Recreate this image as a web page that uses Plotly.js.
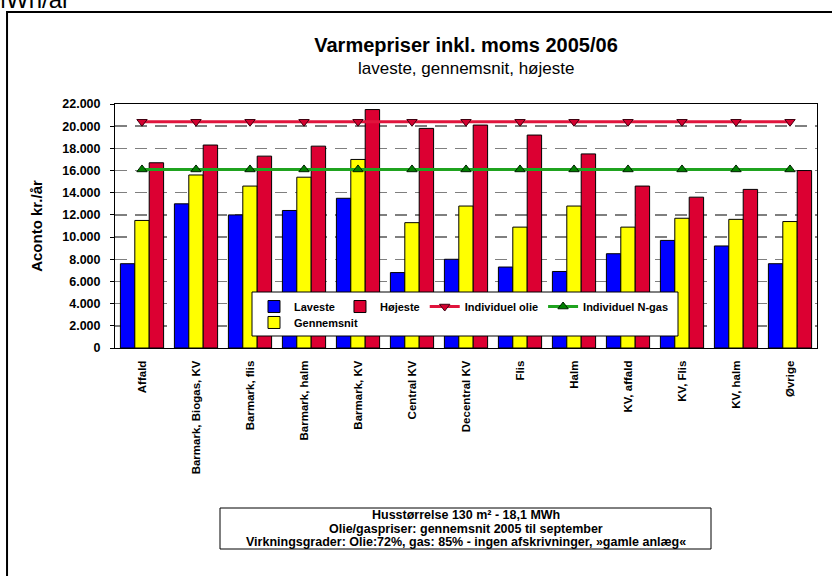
<!DOCTYPE html>
<html>
<head>
<meta charset="utf-8">
<script src="https://cdn.plot.ly/plotly-3.0.1.min.js"></script>
<style>html,body{margin:0;padding:0;background:#fff;}</style>
</head>
<body>
<div id="chart" style="width:832px;height:576px;"></div>
<script>
var categories = ["Affald", "Barmark, Biogas, KV", "Barmark, flis", "Barmark, halm", "Barmark, KV",
  "Central KV", "Decentral KV", "Flis", "Halm", "KV, affald", "KV, Flis", "KV, halm", "Øvrige"];
var laveste     = [7600, 13000, 12000, 12400, 13500, 6800, 8000, 7300, 6900, 8500, 9700, 9200, 7600];
var gennemsnit  = [11500, 15600, 14600, 15400, 17000, 11300, 12800, 10900, 12800, 10900, 11700, 11600, 11400];
var hojeste     = [16700, 18300, 17300, 18200, 21500, 19800, 20100, 19200, 17500, 14600, 13600, 14300, 16000];
var individuelOlie = [20400, 20400, 20400, 20400, 20400, 20400, 20400, 20400, 20400, 20400, 20400, 20400, 20400];
var individuelGas  = [16100, 16100, 16100, 16100, 16100, 16100, 16100, 16100, 16100, 16100, 16100, 16100, 16100];
var yTickVals = [0, 2000, 4000, 6000, 8000, 10000, 12000, 14000, 16000, 18000, 20000, 22000];
var noteLines = [
  "Husstørrelse 130 m² - 18,1 MWh",
  "Olie/gaspriser: gennemsnit 2005 til september",
  "Virkningsgrader: Olie:72%, gas: 85% - ingen afskrivninger, »gamle anlæg«"
];

var FONT = "Liberation Sans, Arial, sans-serif";

var traces = [
  {type: "bar", name: "Laveste", x: categories, y: laveste, legendrank: 1,
   marker: {color: "#0000FF", line: {color: "#000000", width: 1}}},
  {type: "bar", name: "Gennemsnit", x: categories, y: gennemsnit, legend: "legend2", legendrank: 5,
   marker: {color: "#FFFF00", line: {color: "#000000", width: 1}}},
  {type: "bar", name: "Højeste", x: categories, y: hojeste, legendrank: 2,
   marker: {color: "#DC0032", line: {color: "#000000", width: 1}}},
  {type: "scatter", mode: "lines+markers", name: "Individuel olie", x: categories, y: individuelOlie, legendrank: 3,
   line: {color: "#E0143C", width: 3},
   marker: {symbol: "triangle-down", size: 9, color: "#D4002F", line: {color: "#400010", width: 1}}},
  {type: "scatter", mode: "lines+markers", name: "Individuel N-gas", x: categories, y: individuelGas, legendrank: 4,
   line: {color: "#1FA31F", width: 3},
   marker: {symbol: "triangle-up", size: 9, color: "#008000", line: {color: "#002000", width: 1}}}
];

// pixel -> paper helpers (plot area: x 115..817, y 104..348)
function px(x) { return (x - 115) / 702; }
function py(y) { return (348 - y) / 244; }

var annotations = [
  {text: "laveste, gennemsnit, højeste", xref: "paper", yref: "paper", x: 0.5, y: py(68),
   xanchor: "center", yanchor: "middle", showarrow: false, font: {family: FONT, size: 17, color: "#000"}},
  {text: "MWh/år", xref: "paper", yref: "paper", x: px(-16), y: py(15), xanchor: "left", yanchor: "bottom",
   showarrow: false, font: {family: FONT, size: 24, color: "#000"}}
];
var lineY = [514.7, 528.5, 542.3];
noteLines.forEach(function (t, i) {
  annotations.push({text: t, xref: "paper", yref: "paper", x: px(465.5), y: py(lineY[i]),
    xanchor: "center", yanchor: "middle", showarrow: false,
    font: {family: FONT, size: 12.5, weight: "bold", color: "#000"}});
});

var layout = {
  width: 832, height: 576,
  margin: {l: 115, r: 15, t: 104, b: 228},
  paper_bgcolor: "#FFFFFF", plot_bgcolor: "#FFFFFF",
  separators: ",.",
  font: {family: FONT, color: "#000000", size: 11},
  barmode: "group", bargap: 0.2, bargroupgap: 0,
  title: {text: "Varmepriser inkl. moms 2005/06", font: {family: FONT, size: 20, weight: "bold", color: "#000"},
          xref: "paper", x: 0.5, xanchor: "center", yref: "container", y: 1 - 45/576, yanchor: "middle"},
  xaxis: {type: "category", range: [-0.5, 12.5], tickangle: -90,
          tickfont: {family: FONT, size: 11.5, weight: "bold", color: "#000"}, ticklabelstandoff: 7,
          showline: true, mirror: true, linecolor: "#000", linewidth: 1,
          ticks: "", showgrid: false, fixedrange: true},
  yaxis: {range: [0, 22000], tickvals: yTickVals, tickformat: ",.0f",
          tickfont: {family: FONT, size: 12.5, weight: "bold", color: "#000"}, ticklabelstandoff: 7,
          ticks: "outside", ticklen: 4, tickcolor: "#000",
          showline: true, mirror: true, linecolor: "#000", linewidth: 1,
          showgrid: true, gridcolor: "#7F7F7F", gridwidth: 1.5, griddash: "12px,8px",
          zeroline: false,
          title: {text: "Aconto kr./år", font: {family: FONT, size: 15, weight: "bold", color: "#000"}, standoff: 16}},
  showlegend: true,
  legend: {orientation: "h", x: 0.198, xanchor: "left", y: 0.2294, yanchor: "top",
           bgcolor: "rgba(0,0,0,0)", borderwidth: 0, traceorder: "normal",
           font: {family: FONT, size: 11, weight: "bold", color: "#000"}},
  legend2: {orientation: "h", x: 0.198, xanchor: "left", y: 0.164, yanchor: "top",
           bgcolor: "rgba(0,0,0,0)", borderwidth: 0,
           font: {family: FONT, size: 11, weight: "bold", color: "#000"}},
  shapes: [
    {type: "path", xref: "paper", yref: "paper", layer: "above",
     path: "M 1.05 1.377 L -0.1538 1.377 L -0.1538 -1.0",
     line: {color: "#000", width: 2}},
    {type: "rect", xref: "paper", yref: "paper", layer: "above",
     x0: px(252), x1: px(678), y0: py(336), y1: py(292),
     fillcolor: "#FFFFFF", line: {color: "#000", width: 1}},
    {type: "rect", xref: "paper", yref: "paper", layer: "above",
     x0: px(220), x1: px(711), y0: py(549), y1: py(508),
     fillcolor: "#FFFFFF", line: {color: "#000", width: 1}}
  ],
  annotations: annotations
};

Plotly.newPlot("chart", traces, layout, {displayModeBar: false, staticPlot: true});
</script>
</body>
</html>
